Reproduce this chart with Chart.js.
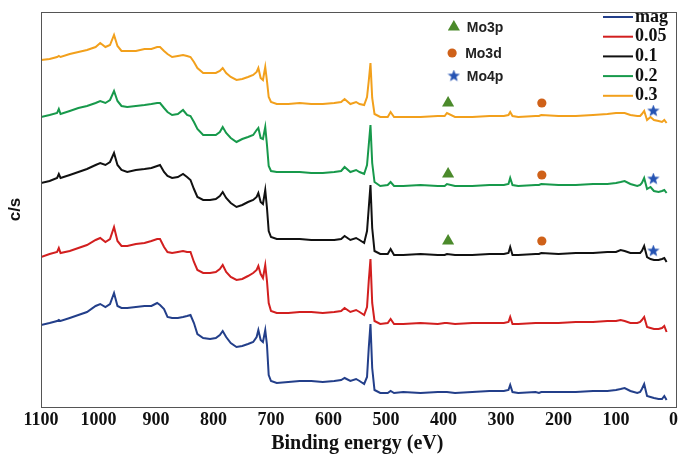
<!DOCTYPE html>
<html>
<head>
<meta charset="utf-8">
<script src="https://cdn.jsdelivr.net/npm/chart.js@4.4.1/dist/chart.umd.min.js"></script>
<style>
  html, body { margin: 0; padding: 0; background: #fff; }
  #wrap { width: 679px; height: 456px; overflow: hidden; }
</style>
</head>
<body>
<div id="wrap"><canvas id="xpsChart" width="681" height="456"></canvas></div>
<script>
// Binding energy grid (eV), shared by all spectra
const energy = [
  1100, 1085, 1072, 1069, 1066, 1050, 1035, 1020, 1005, 997, 988, 980, 973, 967, 960, 950, 935, 920, 908, 898,
  893, 886, 880, 872, 862, 853, 846, 840, 834, 828, 818, 806, 796, 789, 784, 778, 770, 760, 750, 740,
  731, 725, 722, 718, 714, 710, 707, 704, 700, 690,
  670, 650, 630, 610, 590, 578, 572, 562, 552, 546, 538, 533, 530, 527, 524, 520, 510,
  497, 492, 486, 470, 440, 410, 398, 394, 380, 350, 320, 295, 287, 284, 280, 270, 240,
  234, 230, 200, 170, 140, 115, 100, 92, 85, 75, 63, 58, 55, 51, 46, 40, 34, 26, 20, 16, 12
];

// Intensities (c/s, stacked, arbitrary units)
const magCps = [
  78, 80, 82, 83, 82, 85, 88, 91, 97, 99, 96, 99, 110, 97, 95, 95, 96, 97, 97, 100,
  98, 94, 86, 85, 85, 86, 87, 88, 80, 69, 65, 64, 65, 68, 72, 66, 60, 56, 57, 59,
  61, 66, 73, 63, 61, 73, 58, 28, 22, 20,
  21, 22, 22, 21, 22, 23, 25, 22, 24, 22, 19, 26, 55, 79, 35, 13, 10,
  10, 12, 10, 11, 10, 11, 11, 11, 10, 11, 12, 12, 13, 18, 11, 10, 11,
  10, 11, 11, 11, 12, 12, 13, 14, 15, 12, 10, 11, 14, 19, 7, 6, 5, 4, 4, 7, 3
];
const cps005 = [
  146, 149, 151, 155, 150, 152, 155, 158, 163, 165, 161, 164, 176, 162, 157, 157, 159, 160, 162, 164,
  164, 156, 151, 150, 151, 152, 151, 151, 141, 133, 130, 130, 131, 134, 138, 131, 126, 123, 124, 127,
  130, 133, 137, 129, 125, 138, 122, 100, 92, 90,
  90, 91, 91, 90, 91, 92, 95, 91, 93, 91, 88, 96, 122, 144, 100, 82, 79,
  80, 84, 79, 79, 80, 79, 80, 80, 79, 80, 80, 80, 81, 86, 79, 79, 80,
  80, 80, 80, 81, 81, 82, 82, 83, 82, 80, 80, 81, 83, 86, 76, 75, 74, 74, 75, 77, 71
];
const cps01 = [
  220, 222, 225, 229, 225, 228, 231, 234, 238, 240, 238, 241, 250, 238, 233, 231, 233, 234, 235, 237,
  238, 231, 227, 225, 226, 229, 226, 223, 214, 206, 203, 203, 204, 207, 211, 205, 200, 196, 198, 201,
  203, 206, 210, 201, 199, 213, 195, 172, 166, 164,
  164, 164, 163, 163, 163, 164, 167, 163, 165, 163, 160, 172, 195, 218, 175, 152, 149,
  149, 154, 148, 148, 149, 148, 148, 149, 148, 148, 149, 149, 150, 156, 148, 148, 149,
  149, 150, 149, 150, 150, 151, 151, 153, 152, 150, 150, 150, 152, 157, 146, 144, 143, 143, 144, 145, 141
];
const cps02 = [
  286, 288, 290, 294, 289, 292, 295, 297, 300, 302, 300, 303, 312, 302, 297, 296, 297, 298, 299, 300,
  300, 295, 291, 288, 289, 293, 288, 287, 281, 274, 268, 268, 268, 271, 276, 270, 265, 261, 264, 266,
  268, 273, 275, 265, 264, 276, 258, 237, 232, 231,
  231, 231, 230, 230, 231, 232, 236, 231, 233, 231, 229, 238, 258, 278, 240, 221, 217,
  218, 221, 217, 217, 218, 217, 217, 219, 217, 217, 218, 218, 219, 225, 218, 217, 218,
  218, 219, 218, 218, 219, 219, 220, 221, 222, 219, 217, 218, 220, 225, 214, 216, 212, 211, 212, 213, 210
];
const cps03 = [
  343, 344, 346, 347, 346, 349, 351, 353, 356, 360, 356, 358, 368, 357, 352, 352, 352, 354, 354, 356,
  356, 352, 349, 346, 347, 348, 347, 346, 341, 335, 330, 330, 330, 332, 335, 330, 326, 323, 324, 326,
  328, 331, 335, 325, 323, 336, 322, 306, 301, 299,
  299, 300, 299, 299, 300, 301, 304, 299, 301, 299, 298, 306, 322, 340, 305, 289, 286,
  286, 291, 286, 286, 286, 287, 287, 290, 286, 286, 287, 287, 288, 291, 287, 286, 287,
  287, 288, 287, 287, 288, 289, 290, 290, 290, 288, 287, 287, 289, 292, 283, 286, 283, 282, 281, 283, 280
];

const seriesLabels = ["mag", "0.05", "0.1", "0.2", "0.3"];
const seriesColors = ["#233f8a", "#d21f1f", "#111111", "#17994b", "#f2a01c"];
const seriesValues = [magCps, cps005, cps01, cps02, cps03];

// Peak markers: first three sit over 0.3, 0.2 and 0.1; the last one is the key
const mo3pEnergy = [392, 392, 392, 382];
const mo3pCps = [300, 229, 162, 376];
const mo3dEnergy = [229, 229, 229, 385];
const mo3dCps = [300, 228, 162, 350];
const mo4pEnergy = [35, 35, 35, 382];
const mo4pCps = [292, 224, 152, 327];
const markerNames = ["Mo3p", "Mo3d", "Mo4p"];

const xTicks = [1100, 1000, 900, 800, 700, 600, 500, 400, 300, 200, 100, 0];
const frameRightEnergy = -4; // plot box runs a little past 0 eV

function toPoints(xs, ys) {
  return xs.map((x, i) => ({ x: x, y: ys[i] }));
}

// Chart.js "star" is only strokes, so build a filled one
function starImage(size, color) {
  const c = document.createElement("canvas");
  c.width = c.height = size;
  const g = c.getContext("2d");
  g.fillStyle = color;
  g.beginPath();
  for (let i = 0; i < 10; i++) {
    const r = i % 2 ? size * 0.21 : size / 2;
    const a = -Math.PI / 2 + i * Math.PI / 5;
    g.lineTo(size / 2 + r * Math.cos(a), size / 2 + r * Math.sin(a));
  }
  g.closePath();
  g.fill();
  return c;
}

const spectraSets = seriesLabels.map((label, i) => ({
  label: label,
  data: toPoints(energy, seriesValues[i]),
  borderColor: seriesColors[i],
  borderWidth: 2,
  pointRadius: 0,
  fill: false,
  tension: 0,
  order: 2,
}));

const markerSets = [
  { label: "Mo3p", data: toPoints(mo3pEnergy, mo3pCps), pointStyle: "triangle", pointRadius: 7, backgroundColor: "#4b8a2b", borderWidth: 0 },
  { label: "Mo3d", data: toPoints(mo3dEnergy, mo3dCps), pointStyle: "circle", pointRadius: 4.6, backgroundColor: "#cf6119", borderWidth: 0 },
  { label: "Mo4p", data: toPoints(mo4pEnergy, mo4pCps), pointStyle: starImage(13, "#2553b3"), pointRadius: 6, backgroundColor: "#2553b3", borderWidth: 0 },
].map((d) => ({ ...d, showLine: false, order: 0, borderColor: d.backgroundColor }));

// Box round the plot area
const framePlugin = {
  id: "frame",
  afterDraw(chart) {
    const { ctx, chartArea: a } = chart;
    const right = chart.scales.x.getPixelForValue(frameRightEnergy);
    ctx.save();
    ctx.strokeStyle = "#555";
    ctx.lineWidth = 1;
    ctx.strokeRect(Math.round(a.left) + 0.5, Math.round(a.top) + 0.5, Math.round(right - a.left), Math.round(a.bottom - a.top));
    ctx.restore();
  },
};

// Series legend in the top-right corner, lines then labels
const legendPlugin = {
  id: "cornerLegend",
  afterDraw(chart) {
    const ctx = chart.ctx;
    ctx.save();
    ctx.font = 'bold 18px "Liberation Serif"';
    ctx.textBaseline = "middle";
    seriesLabels.forEach((label, i) => {
      const y = 17 + i * 19.7;
      ctx.strokeStyle = seriesColors[i];
      ctx.lineWidth = 2;
      ctx.beginPath();
      ctx.moveTo(603, y);
      ctx.lineTo(633, y);
      ctx.stroke();
      ctx.fillStyle = "#111";
      ctx.fillText(label, 635, y);
    });
    ctx.restore();
  },
};

// Names next to the key marker of each peak set
const markerLabelPlugin = {
  id: "markerLabels",
  afterDatasetsDraw(chart) {
    const ctx = chart.ctx;
    ctx.save();
    ctx.font = 'bold 14px "Liberation Sans"';
    ctx.fillStyle = "#222";
    ctx.textBaseline = "middle";
    markerSets.forEach((set, i) => {
      const key = set.data[set.data.length - 1];
      const px = chart.scales.x.getPixelForValue(key.x);
      const py = chart.scales.y.getPixelForValue(key.y);
      ctx.fillText(markerNames[i], px + 13, py + 1);
    });
    ctx.restore();
  },
};

new Chart(document.getElementById("xpsChart"), {
  type: "line",
  data: { datasets: [...spectraSets, ...markerSets] },
  options: {
    responsive: false,
    animation: false,
    layout: { padding: { top: 12, right: 0, left: 0, bottom: 0 } },
    plugins: { legend: { display: false }, tooltip: { enabled: false } },
    scales: {
      x: {
        type: "linear",
        reverse: true,
        min: 0,
        max: 1100,
        grid: { display: false, drawTicks: false },
        border: { display: false },
        afterBuildTicks: (scale) => { scale.ticks = xTicks.map((v) => ({ value: v })); },
        afterFit: (scale) => { scale.paddingLeft = 0; scale.height = 49; },
        ticks: {
          autoSkip: false,
          maxRotation: 0,
          padding: 3,
          color: "#111",
          font: { family: "Liberation Serif", size: 18, weight: "bold" },
          callback: (value) => String(value),
        },
        title: {
          display: true,
          text: "Binding energy (eV)",
          color: "#111",
          padding: 0,
          font: { family: "Liberation Serif", size: 20, weight: "bold" },
        },
      },
      y: {
        min: -4,
        max: 391,
        grid: { display: false, drawTicks: false },
        border: { display: false },
        ticks: { display: false },
        afterFit: (scale) => { scale.width = 41; },
        title: {
          display: true,
          text: "c/s",
          color: "#111",
          padding: { top: 5, bottom: 0 },
          font: { family: "Liberation Sans", size: 17, weight: "bold" },
        },
      },
    },
  },
  plugins: [framePlugin, legendPlugin, markerLabelPlugin],
});
</script>
</body>
</html>
